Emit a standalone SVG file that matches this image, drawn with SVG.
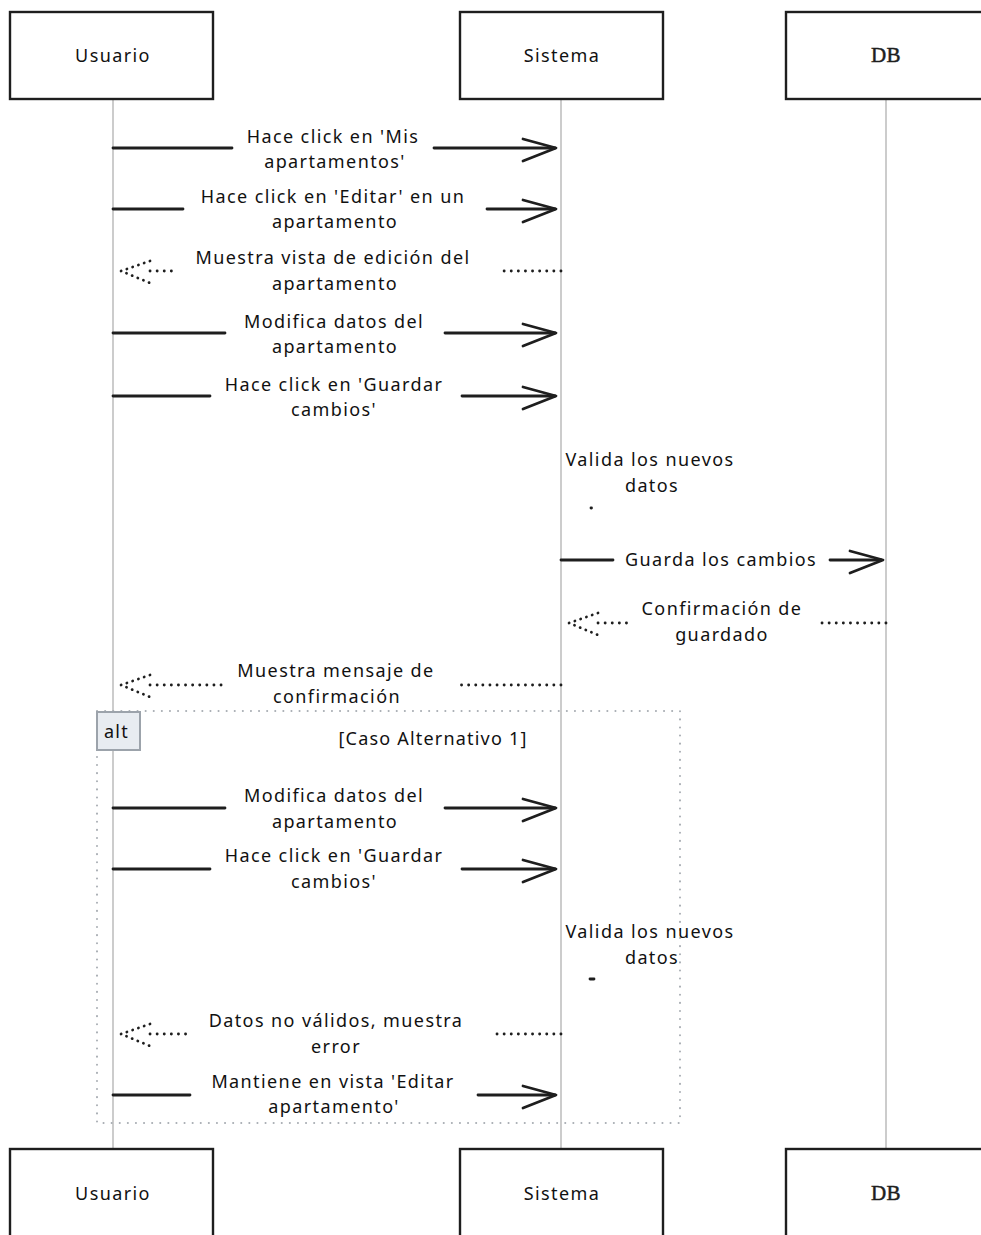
<svg xmlns="http://www.w3.org/2000/svg" width="981" height="1235" viewBox="0 0 981 1235">
  <style>
    .actor { fill: #ffffff; stroke: #1e1e1e; stroke-width: 2.4; }
    .actor-label { font-family: "Noto Sans", "Liberation Sans", sans-serif; font-size: 18px; fill: #111111; text-anchor: middle; letter-spacing: 1.4px; }
    .db-label { font-family: "Liberation Serif", "DejaVu Serif", serif; font-size: 21px; fill: #1e1e1e; stroke: #1e1e1e; stroke-width: 0.5px; text-anchor: middle; letter-spacing: 0.5px; }
    .lifeline { stroke: #cccccc; stroke-width: 2; fill: none; }
    .msg { font-family: "Noto Sans", "Liberation Sans", sans-serif; font-size: 18px; fill: #111111; text-anchor: middle; letter-spacing: 1.4px; }
    .solid { stroke: #1e1e1e; stroke-width: 2.8; fill: none; stroke-linecap: round; }
    .head { stroke: #1e1e1e; stroke-width: 2.8; fill: none; stroke-linecap: round; stroke-linejoin: round; }
    .dots { stroke: #1e1e1e; stroke-width: 2.8; fill: none; stroke-linecap: round; stroke-dasharray: 0.1 7; }
    .dothead { stroke: #1e1e1e; stroke-width: 2.8; fill: none; stroke-linecap: round; stroke-dasharray: 0.1 6; }
    .frame { stroke: #a8adb3; stroke-width: 2; fill: none; stroke-linecap: round; stroke-dasharray: 0.1 8; }
    .frame-tag { fill: #e8ecf1; stroke: #9ca3ab; stroke-width: 2; }
    .frame-label { font-family: "Noto Sans", "Liberation Sans", sans-serif; font-size: 18px; fill: #111111; letter-spacing: 1.2px; }
  </style>

  <!-- lifelines -->
  <g id="lifelines">
    <line class="lifeline" x1="113" y1="99" x2="113" y2="1149"/>
    <line class="lifeline" x1="561" y1="99" x2="561" y2="1149"/>
    <line class="lifeline" x1="886" y1="99" x2="886" y2="1149"/>
  </g>

  <!-- participants, top row -->
  <g id="usuario-top">
    <rect class="actor" x="10" y="12" width="203" height="87"/>
    <text class="actor-label" x="113" y="62">Usuario</text>
  </g>
  <g id="sistema-top">
    <rect class="actor" x="460" y="12" width="203" height="87"/>
    <text class="actor-label" x="562" y="62">Sistema</text>
  </g>
  <g id="db-top">
    <rect class="actor" x="786" y="12" width="205" height="87"/>
    <text class="db-label" x="886" y="62">DB</text>
  </g>

  <!-- alt fragment -->
  <g id="alt-frame">
    <rect class="frame" x="97" y="711" width="583" height="412"/>
    <rect class="frame-tag" x="97" y="712" width="43" height="38"/>
    <text class="frame-label" x="104" y="738">alt</text>
    <text class="frame-label" x="433" y="745" text-anchor="middle">[Caso Alternativo 1]</text>
  </g>

  <!-- messages -->
  <g id="connectors">
    <!-- 1 -->
    <line class="solid" x1="113" y1="148" x2="232" y2="148"/>
    <line class="solid" x1="434" y1="148" x2="555" y2="148"/>
    <path class="head" d="M523,139 L556,148 L523,161"/>
    <!-- 2 -->
    <line class="solid" x1="113" y1="209" x2="183" y2="209"/>
    <line class="solid" x1="487" y1="209" x2="555" y2="209"/>
    <path class="head" d="M523,200 L556,209 L523,222"/>
    <!-- 3 (return) -->
    <line class="dots" x1="561" y1="271" x2="503" y2="271"/>
    <line class="dots" x1="150" y1="271" x2="176" y2="271"/>
    <path class="dothead" d="M150,261 L121,271 L150,283"/>
    <!-- 4 -->
    <line class="solid" x1="113" y1="333" x2="225" y2="333"/>
    <line class="solid" x1="445" y1="333" x2="555" y2="333"/>
    <path class="head" d="M523,324 L556,333 L523,346"/>
    <!-- 5 -->
    <line class="solid" x1="113" y1="396" x2="210" y2="396"/>
    <line class="solid" x1="462" y1="396" x2="555" y2="396"/>
    <path class="head" d="M523,387 L556,396 L523,409"/>
    <!-- 6 (self) -->
    <line class="solid" x1="591" y1="508" x2="591.5" y2="508" stroke-width="2"/>
    <!-- 7 -->
    <line class="solid" x1="561" y1="560" x2="613" y2="560"/>
    <line class="solid" x1="830" y1="560" x2="881" y2="560"/>
    <path class="head" d="M850,551 L883,560 L850,573"/>
    <!-- 8 (return) -->
    <line class="dots" x1="886" y1="623" x2="820" y2="623"/>
    <line class="dots" x1="598" y1="623" x2="632" y2="623"/>
    <path class="dothead" d="M598,613 L569,623 L598,635"/>
    <!-- 9 (return) -->
    <line class="dots" x1="561" y1="685" x2="456" y2="685"/>
    <line class="dots" x1="150" y1="685" x2="227" y2="685"/>
    <path class="dothead" d="M150,675 L121,685 L150,697"/>
    <!-- 10 -->
    <line class="solid" x1="113" y1="808" x2="225" y2="808"/>
    <line class="solid" x1="445" y1="808" x2="555" y2="808"/>
    <path class="head" d="M523,799 L556,808 L523,821"/>
    <!-- 11 -->
    <line class="solid" x1="113" y1="869" x2="210" y2="869"/>
    <line class="solid" x1="462" y1="869" x2="555" y2="869"/>
    <path class="head" d="M523,860 L556,869 L523,882"/>
    <!-- 12 (self) -->
    <line class="solid" x1="590" y1="979" x2="594" y2="979" stroke-width="1.2" stroke="#999"/>
    <!-- 13 (return) -->
    <line class="dots" x1="561" y1="1034" x2="492" y2="1034"/>
    <line class="dots" x1="150" y1="1034" x2="188" y2="1034"/>
    <path class="dothead" d="M150,1024 L121,1034 L150,1046"/>
    <!-- 14 -->
    <line class="solid" x1="113" y1="1095" x2="190" y2="1095"/>
    <line class="solid" x1="478" y1="1095" x2="555" y2="1095"/>
    <path class="head" d="M523,1086 L556,1095 L523,1108"/>
  </g>

  <!-- message labels -->
  <g id="labels">
    <text class="msg" x="333" y="143">Hace click en 'Mis</text>
    <text class="msg" x="335" y="168">apartamentos'</text>
    <text class="msg" x="333" y="203">Hace click en 'Editar' en un</text>
    <text class="msg" x="335" y="228">apartamento</text>
    <text class="msg" x="333" y="264">Muestra vista de edición del</text>
    <text class="msg" x="335" y="290">apartamento</text>
    <text class="msg" x="334" y="328">Modifica datos del</text>
    <text class="msg" x="335" y="353">apartamento</text>
    <text class="msg" x="334" y="391">Hace click en 'Guardar</text>
    <text class="msg" x="334" y="416">cambios'</text>
    <text class="msg" x="650" y="466">Valida los nuevos</text>
    <text class="msg" x="652" y="492">datos</text>
    <text class="msg" x="721" y="566">Guarda los cambios</text>
    <text class="msg" x="722" y="615">Confirmación de</text>
    <text class="msg" x="722" y="641">guardado</text>
    <text class="msg" x="336" y="677">Muestra mensaje de</text>
    <text class="msg" x="337" y="703">confirmación</text>
    <text class="msg" x="334" y="802">Modifica datos del</text>
    <text class="msg" x="335" y="828">apartamento</text>
    <text class="msg" x="334" y="862">Hace click en 'Guardar</text>
    <text class="msg" x="334" y="888">cambios'</text>
    <text class="msg" x="650" y="938">Valida los nuevos</text>
    <text class="msg" x="652" y="964">datos</text>
    <text class="msg" x="336" y="1027">Datos no válidos, muestra</text>
    <text class="msg" x="336" y="1053">error</text>
    <text class="msg" x="333" y="1088">Mantiene en vista 'Editar</text>
    <text class="msg" x="334" y="1113">apartamento'</text>
  </g>

  <!-- participants, bottom row -->
  <g id="usuario-bottom">
    <rect class="actor" x="10" y="1149" width="203" height="95"/>
    <text class="actor-label" x="113" y="1200">Usuario</text>
  </g>
  <g id="sistema-bottom">
    <rect class="actor" x="460" y="1149" width="203" height="95"/>
    <text class="actor-label" x="562" y="1200">Sistema</text>
  </g>
  <g id="db-bottom">
    <rect class="actor" x="786" y="1149" width="205" height="95"/>
    <text class="db-label" x="886" y="1200">DB</text>
  </g>
</svg>
